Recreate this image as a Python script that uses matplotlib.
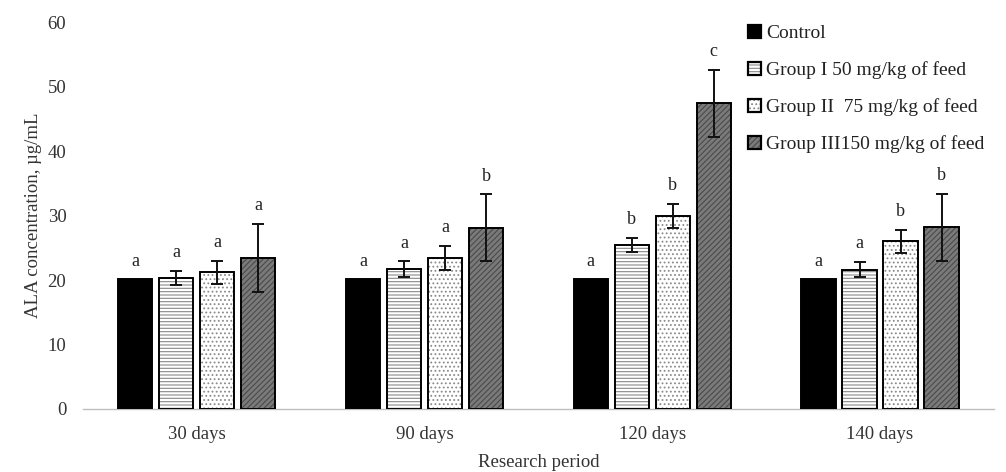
import matplotlib
matplotlib.use("Agg")
import matplotlib.pyplot as plt
import numpy as np
from matplotlib.patches import Patch
from matplotlib.legend_handler import HandlerTuple

periods = ["30 days", "90 days", "120 days", "140 days"]
groups = ["Control", "Group I 50 mg/kg of feed", "Group II  75 mg/kg of feed",
          "Group III150 mg/kg of feed"]
control = [20.1, 20.1, 20.1, 20.1]
group1 = [20.3, 21.7, 25.4, 21.6]
group2 = [21.2, 23.4, 29.9, 26.0]
group3 = [23.4, 28.1, 47.4, 28.2]
err_control = [0, 0, 0, 0]
err_group1 = [1.1, 1.2, 1.1, 1.2]
err_group2 = [1.8, 1.9, 1.9, 1.8]
err_group3 = [5.3, 5.2, 5.2, 5.2]
letters_control = ["a", "a", "a", "a"]
letters_group1 = ["a", "a", "b", "a"]
letters_group2 = ["a", "a", "b", "b"]
letters_group3 = ["a", "b", "c", "b"]

values = [control, group1, group2, group3]
errors = [err_control, err_group1, err_group2, err_group3]
letters = [letters_control, letters_group1, letters_group2, letters_group3]

styles = [
    dict(face="#000000", hatch=None, hcol="#000000"),
    dict(face="#ffffff", hatch="-----", hcol="#8a8a8a"),
    dict(face="#ffffff", hatch="....", hcol="#8a8a8a"),
    dict(face="#7a7a7a", hatch="//////", hcol="#4a4a4a"),
]

plt.rcParams["font.family"] = ["Liberation Serif", "DejaVu Serif"]
plt.rcParams["hatch.linewidth"] = 0.8

fig = plt.figure(figsize=(10.06, 4.72), dpi=100)
ax = fig.add_axes([0.0825, 0.1335, 0.9055, 0.8195])

x = np.arange(len(periods))
width = 0.15
step = 0.18
handles = []
for i, (vals, errs, st) in enumerate(zip(values, errors, styles)):
    pos = x + (i - 1.5) * step
    ax.bar(pos, vals, width, color=st["face"], edgecolor=st["hcol"],
           hatch=st["hatch"], linewidth=0, zorder=2)
    ax.bar(pos, vals, width, fill=False, edgecolor="#000000", linewidth=1.4, zorder=3)
    for p, v, e, lab in zip(pos, vals, errs, letters[i]):
        if e > 0:
            ax.errorbar(p, v, yerr=e, fmt="none", ecolor="#111111", elinewidth=1.4,
                        capsize=4, capthick=1.4, zorder=4)
        ax.annotate(lab, (p, v + e), xytext=(0, 7), textcoords="offset points",
                    ha="center", va="bottom", fontsize=13, color="#222222")
    h1 = Patch(facecolor=st["face"], edgecolor=st["hcol"], hatch=st["hatch"], linewidth=0)
    h2 = Patch(fill=False, edgecolor="#000000", linewidth=1.6)
    handles.append((h1, h2))

ax.set_xlim(-0.5, 3.5)
ax.set_ylim(0, 60)
ax.set_yticks(range(0, 61, 10))
ax.set_xticks(x)
ax.set_xticklabels(periods, fontsize=13.5, color="#333333")
ax.tick_params(axis="y", labelsize=13.5, colors="#333333", length=0, pad=12)
ax.tick_params(axis="x", length=0, pad=12)
for s in ["top", "right", "left"]:
    ax.spines[s].set_visible(False)
ax.spines["bottom"].set_color("#bdbdbd")
ax.spines["bottom"].set_linewidth(1.0)

ax.set_ylabel("ALA concentration, µg/mL", fontsize=13.5, color="#333333", labelpad=4)
ax.set_xlabel("Research period", fontsize=13.5, color="#333333", labelpad=8)

leg = fig.legend(handles, groups, handler_map={tuple: HandlerTuple(ndivide=1, pad=0)},
                 loc="upper left", bbox_to_anchor=(748 / 1006, 1 - 25 / 472),
                 frameon=False, fontsize=14, handlelength=0.65, handleheight=0.65,
                 handletextpad=0.3, labelspacing=0.98, borderaxespad=0, borderpad=0)
for t in leg.get_texts():
    t.set_color("#222222")

fig.savefig("out.png", dpi=100)
